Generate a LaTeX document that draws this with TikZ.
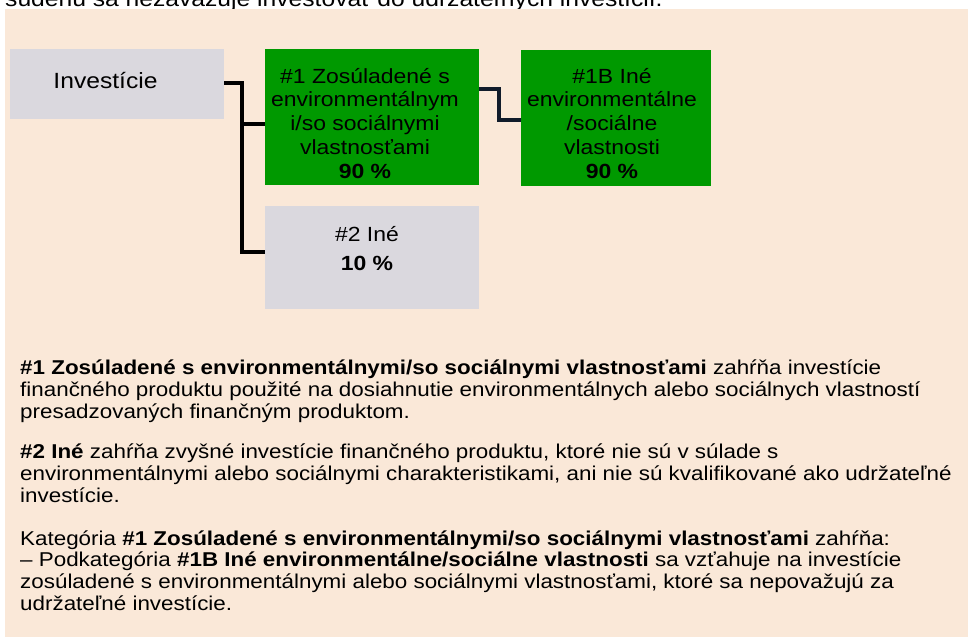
\documentclass[tikz,border=0pt]{standalone}
\usepackage{fontspec}
\setmainfont{Liberation Sans}[FakeStretch=1.12]
\usetikzlibrary{positioning}

\definecolor{panelbg}{HTML}{FAE8D8}
\definecolor{boxgray}{HTML}{DAD8DE}
\definecolor{boxgreen}{HTML}{009900}
\definecolor{linenavy}{HTML}{101B2A}

\tikzset{
  graybox/.style={fill=boxgray, inner sep=0pt},
  greenbox/.style={fill=boxgreen, inner sep=0pt},
  boxtext/.style={anchor=base, align=center, inner sep=0pt, font=\fontsize{20.5}{23.7}\selectfont},
  bodytext/.style={anchor=base west, align=left, inner sep=0pt, font=\fontsize{20}{21.6}\selectfont},
  conn/.style={line width=3.2pt}
}

\begin{document}
\begin{tikzpicture}[x=1pt,y=-1pt]
% Fix the page to the size of the picture
\useasboundingbox (0,0) rectangle (968,637);
\fill[white] (0,0) rectangle (968,637);

% Sentence cut off at the top edge
\node[bodytext, font=\fontsize{22}{24}\selectfont] (toptxt) at (5,6.5) {súdenú sa nezaväzuje investovať do udržateľných investícií.};

% Draw the panel
\fill[panelbg] (5,9) rectangle (968,637);

% Draw the boxes
\node[graybox, minimum width=214, minimum height=70] (inv) at (117,84) {};
\node[greenbox, minimum width=214, minimum height=136] (zos) at (372,117) {};
\node[greenbox, minimum width=190, minimum height=136] (ine1b) at (616,118) {};
\node[graybox, minimum width=214, minimum height=103] (ine2) at (372,257.5) {};

% Box texts (placed at the baseline of their last line)
\node[boxtext, font=\fontsize{22}{24}\selectfont] (invtxt) at (105.5,88) {Investície};
\node[boxtext] (zostxt) at (365,178) {\#1 Zosúladené s\\environmentálnym\\i/so sociálnymi\\vlastnosťami\\\textbf{90 \%}};
\node[boxtext] (ine1btxt) at (612,178) {\#1B Iné\\environmentálne\\/sociálne\\vlastnosti\\\textbf{90 \%}};
\node[boxtext] (ine2txt) at (367,270) {\#2 Iné\\[4.4pt]\textbf{10 \%}};

% Draw the connectors
\coordinate (split) at (242,124);
\draw[conn] (inv.east |- 0,83) -| (split) |- (ine2.west |- 0,252);
\draw[conn] (split) -- (zos.west |- 0,124);
\draw[conn, linenavy] (zos.east |- 0,89) -| (499,120) -- (ine1b.west |- 0,120);

% Explanations below the diagram
\node[bodytext] (expl1) at (20,418) {\textbf{\#1 Zosúladené s environmentálnymi/so sociálnymi vlastnosťami} zahŕňa investície\\finančného produktu použité na dosiahnutie environmentálnych alebo sociálnych vlastností\\presadzovaných finančným produktom.};
\node[bodytext] (expl2) at (20,502) {\textbf{\#2 Iné} zahŕňa zvyšné investície finančného produktu, ktoré nie sú v súlade s\\environmentálnymi alebo sociálnymi charakteristikami, ani nie sú kvalifikované ako udržateľné\\investície.};
\node[bodytext] (expl3) at (20,610) {Kategória \textbf{\#1 Zosúladené s environmentálnymi/so sociálnymi vlastnosťami} zahŕňa:\\– Podkategória \textbf{\#1B Iné environmentálne/sociálne vlastnosti} sa vzťahuje na investície\\zosúladené s environmentálnymi alebo sociálnymi vlastnosťami, ktoré sa nepovažujú za\\udržateľné investície.};
\end{tikzpicture}
\end{document}
